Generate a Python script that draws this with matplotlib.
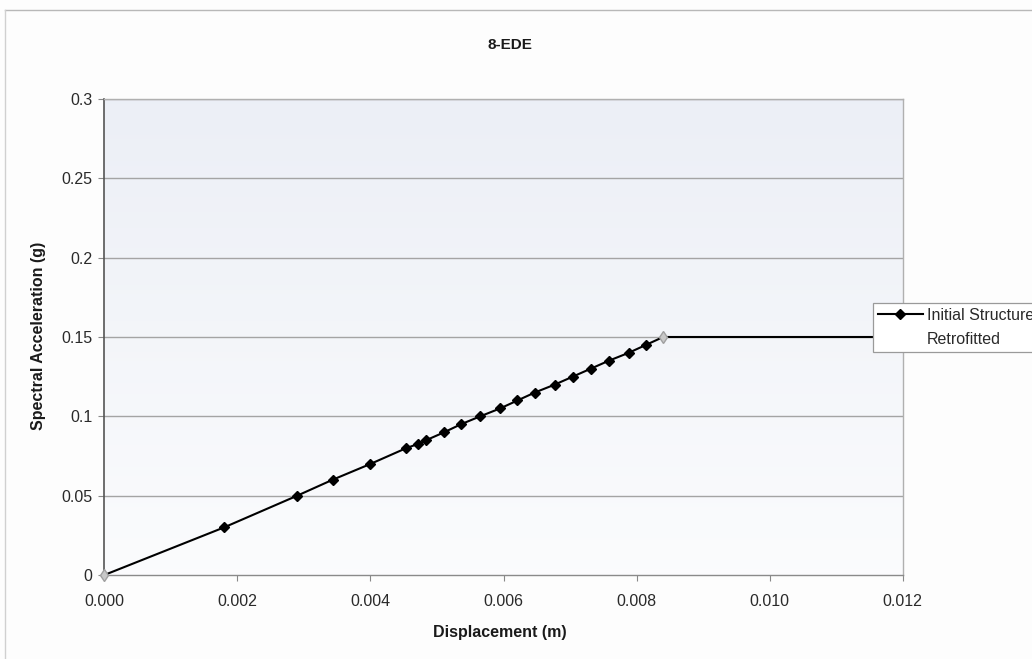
import numpy as np
import matplotlib
matplotlib.use("Agg")
import matplotlib.pyplot as plt
from matplotlib.lines import Line2D

plt.rcParams['font.family'] = ['Liberation Sans', 'DejaVu Sans']

# Capacity curve of the initial structure (displacement in m, Sa in g)
disp_initial = [0.0, 0.00180, 0.00290, 0.00343, 0.00400, 0.00454, 0.00471,
                0.00484, 0.00511, 0.00536, 0.00565, 0.00595, 0.00621, 0.00647,
                0.00677, 0.00704, 0.00731, 0.00758, 0.00788, 0.00814, 0.00840,
                0.01200]
sa_initial = [0.0, 0.030, 0.050, 0.060, 0.070, 0.080, 0.0825, 0.085, 0.090,
              0.095, 0.100, 0.105, 0.110, 0.115, 0.120, 0.125, 0.130, 0.135,
              0.140, 0.145, 0.150, 0.150]
marked_points = list(range(1, 20))

# Retrofitted structure points
disp_retro = [0.0, 0.00840]
sa_retro = [0.0, 0.150]

x_ticks = [0.000, 0.002, 0.004, 0.006, 0.008, 0.010, 0.012]
y_ticks = [0, 0.05, 0.1, 0.15, 0.2, 0.25, 0.3]
y_tick_labels = ["0", "0.05", "0.1", "0.15", "0.2", "0.25", "0.3"]

W, H = 1032, 659
fig = plt.figure(figsize=(W / 100, H / 100), dpi=100)
fig.patch.set_facecolor('#fdfdfd')

# outer chart frame (top and left edges)
fig.add_artist(Line2D([5 / W, 1.0], [1 - 10 / H, 1 - 10 / H], transform=fig.transFigure,
                      color='#b8b8b8', lw=1.0))
fig.add_artist(Line2D([5 / W, 5 / W], [0.0, 1 - 10 / H], transform=fig.transFigure,
                      color='#d0d0d0', lw=1.0))

left, right, bottom, top = 104.3 / W, 902.7 / W, 1 - 575 / H, 1 - 99 / H
ax = fig.add_axes([left, bottom, right - left, top - bottom])

# plot-area fill: faint bluish tone fading towards the bottom
grad = np.linspace(0, 1, 256).reshape(-1, 1)
c_top = np.array([0.925, 0.937, 0.965])
c_bot = np.array([0.985, 0.988, 0.993])
img = c_top[None, None, :] * (1 - grad[:, :, None]) + c_bot[None, None, :] * grad[:, :, None]
ax.imshow(img, extent=[0, 1, 0, 1], transform=ax.transAxes, aspect='auto',
          zorder=0, interpolation='bicubic')

ax.set_xlim(0, 0.012)
ax.set_ylim(0, 0.3)
ax.set_xticks(x_ticks)
ax.set_xticklabels([f"{v:.3f}" for v in x_ticks])
ax.set_yticks(y_ticks)
ax.set_yticklabels(y_tick_labels)

for yv in y_ticks[1:]:
    ax.axhline(yv, color='#a4a4a4', lw=1.0, zorder=1)

for s in ['top', 'right']:
    ax.spines[s].set_color('#b0b0b0')
    ax.spines[s].set_linewidth(1.0)
ax.spines['left'].set_color('#555555')
ax.spines['left'].set_linewidth(1.2)
ax.spines['bottom'].set_color('#8a8a8a')
ax.spines['bottom'].set_linewidth(1.0)

ax.tick_params(axis='both', direction='out', length=4, width=0.8, colors='#888888',
               labelsize=11.5, labelcolor='#2a2a2a')
ax.tick_params(axis='x', pad=9.5)
ax.tick_params(axis='y', pad=4.5)

ax.plot(disp_initial, sa_initial, color='black', lw=1.5, marker='D', ms=5.6,
        markevery=marked_points, mfc='black', mec='black', zorder=3,
        label='Initial Structure', clip_on=True)
ax.plot(disp_retro, sa_retro, linestyle='none', marker='d', ms=6, color='#b4b4b4',
        mfc='#c8c8c8', mec='#a0a0a0', zorder=4, label='Retrofitted', clip_on=False)

leg = ax.legend(loc='lower left', bbox_to_anchor=(873 / W, 1 - 352 / H),
                bbox_transform=fig.transFigure, fontsize=11.5, frameon=True,
                fancybox=False, shadow=False, borderpad=0.3, borderaxespad=0,
                handlelength=2.8, handletextpad=0.25, labelspacing=0.6)
leg.get_frame().set_edgecolor('#9a9a9a')
leg.get_frame().set_linewidth(0.9)
leg.get_frame().set_facecolor('white')
leg.get_frame().set_alpha(1.0)
leg.legend_handles[1].set_alpha(0.0)
for t in leg.get_texts():
    t.set_color('#2a2a2a')

fig.text(510 / W, 1 - 45 / H, "8-EDE", ha='center', va='center', fontsize=11,
         fontweight='bold', color='#1a1a1a')
fig.text(500 / W, 1 - 632 / H, "Displacement (m)", ha='center', va='center',
         fontsize=11.5, fontweight='bold', color='#1a1a1a')
fig.text(39 / W, 1 - 336 / H, "Spectral Acceleration (g)", ha='center', va='center',
         rotation=90, fontsize=11.5, fontweight='bold', color='#1a1a1a')

fig.savefig("out.png", dpi=100, facecolor=fig.get_facecolor())
